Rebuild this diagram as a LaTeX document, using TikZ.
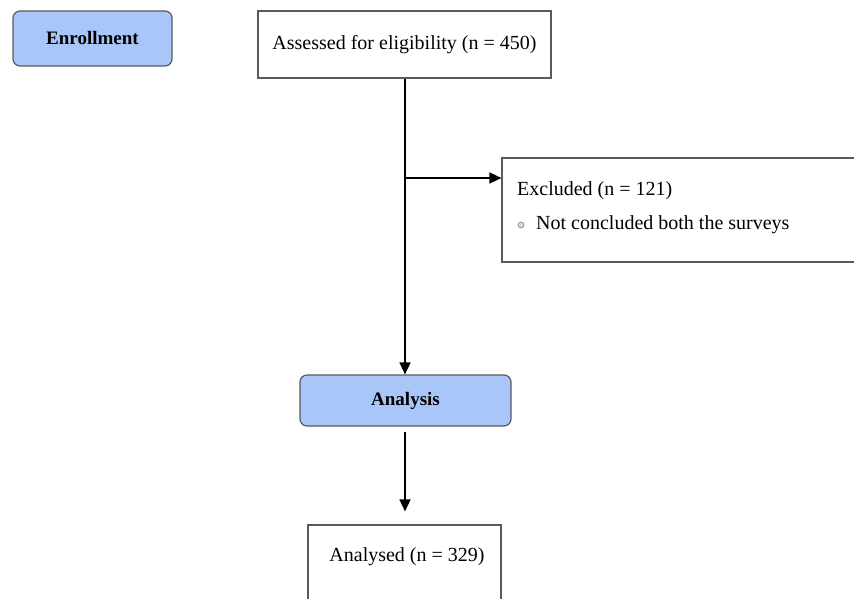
\documentclass[tikz,border=0pt]{standalone}
\usepackage{fontspec}
\setmainfont{Liberation Serif}
\usetikzlibrary{arrows.meta}
\definecolor{boxblue}{HTML}{A9C6F8}
\definecolor{edgegray}{HTML}{5A5A5A}
\tikzset{
  bluebox/.style={draw=edgegray, line width=1.2pt, fill=boxblue, rounded corners=7pt, font=\fontsize{19}{22}\selectfont\bfseries, inner sep=0pt},
  whitebox/.style={draw=edgegray, line width=1.2pt, fill=white, inner sep=0pt, font=\fontsize{20}{24}\selectfont},
  txt/.style={inner sep=0pt, font=\fontsize{20}{24}\selectfont},
  arr/.style={line width=1.6pt, -{Triangle[length=12pt,width=11pt]}},
}
\begin{document}
\begin{tikzpicture}[x=1pt,y=-1pt]
\useasboundingbox (0,0) rectangle (854,599);
\clip (0,0) rectangle (854,599);
\node[bluebox, minimum width=159pt, minimum height=55pt] (enr) at (92.5,38.5) {Enrollment};
\node[whitebox, minimum width=293pt, minimum height=67pt] (ass) at (404.5,44.5) {Assessed for eligibility (n = 450)};
\node[whitebox, minimum width=368pt, minimum height=104pt] (exc) at (686,210) {};
\node[txt, anchor=west] (exct) at (517,191) {Excluded (n = 121)};
\node[circle, draw=gray, fill=gray!30, line width=0.6pt, minimum size=6pt, inner sep=0pt] (bul) at (521,225) {};
\node[txt, anchor=west] (exci) at (536,225) {Not concluded both the surveys};
\node[bluebox, minimum width=211pt, minimum height=51pt] (ana) at (405.5,400.5) {Analysis};
\node[whitebox, minimum width=193pt, minimum height=95pt] (ald) at (404.5,572.5) {};
\node[txt] (aldt) at (407,557) {Analysed (n = 329)};
\coordinate (j) at (405,178);
\draw[arr] (ass.south -| j) -- (ana.north -| j);
\draw[arr] (j) -- (exc.west |- j);
\draw[arr, shorten <=5pt, shorten >=13pt] (ana.south -| j) -- (ald.north -| j);
\end{tikzpicture}
\end{document}
